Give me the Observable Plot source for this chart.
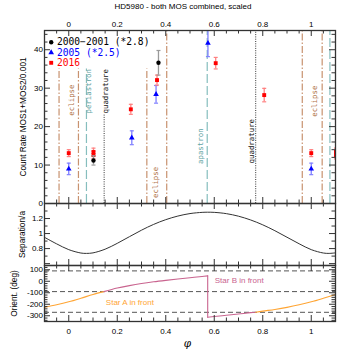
<!DOCTYPE html>
<html><head><meta charset="utf-8">
<script src="https://cdn.jsdelivr.net/npm/d3@7"></script>
<script src="https://cdn.jsdelivr.net/npm/@observablehq/plot@0.6"></script>
<style>
body{margin:0;background:#fff;}
#chart{position:relative;width:354px;height:354px;font-family:"Liberation Sans",Arial,sans-serif;overflow:hidden;}
#chart svg{position:absolute;left:0;overflow:visible;}
#title{position:absolute;top:2px;left:0;width:366px;text-align:center;font-size:8px;color:#000;}
</style></head><body>
<div id="chart"><div id="title">HD5980 - both MOS combined, scaled</div></div>
<script>
// ---------- data ----------
const phaseDomain = [-0.1, 1.1];
const phaseTickLabels = [0, 0.2, 0.4, 0.6, 0.8, 1];

const rateTickLabels = [0, 10, 20, 30, 40];
const sepTickLabels = [0.8, 1, 1.2];
const oriTickLabels = [100, 0, -100, -200, -300];

// 2000-2001 (scaled *2.8)
const obs2000Phase = [0.102, 0.370];
const obs2000Rate  = [11.2, 36.6];
const obs2000Err   = [1.2, 3.2];
// 2005 (scaled *2.5)
const obs2005Phase = [0.0, 0.26, 0.36, 0.574, 1.0];
const obs2005Rate  = [9.0, 17.1, 28.4, 41.7, 9.0];
const obs2005Err   = [1.5, 1.8, 2.3, 3.5, 1.5];
// 2016
const obs2016Phase = [0.0, 0.102, 0.102, 0.256, 0.364, 0.606, 0.806, 1.0, 1.102, 1.102];
const obs2016Rate  = [13.1, 13.4, 12.6, 24.5, 32.1, 36.5, 28.2, 13.1, 13.4, 12.6];
const obs2016Err   = [0.9, 1.0, 1.0, 1.3, 1.3, 1.5, 1.75, 0.9, 1.0, 1.0];

const legendLabels = ["2000\u22122001 (*2.8)", "2005 (*2.5)", "2016"];

// orbital events
const eventKind  = ["eclipse","eclipse","periastron","quadrature","eclipse","eclipse","apastron","quadrature","eclipse","eclipse","periastron"];
const eventPhase = [-0.04, 0.04, 0.073, 0.146, 0.322, 0.404, 0.571, 0.771, 0.963, 1.045, 1.077];
const eventTop   = [35, 35, 35, 23, 35, 45, 45, 45, 45, 45, 45];

const annText  = ["eclipse","periastron","quadrature","eclipse","apastron","quadrature","eclipse"];
const annPhase = [0.012, 0.080, 0.154, 0.357, 0.544, 0.756, 1.012];
const annRate  = [26.9, 29.2, 29.2, 5.5, 14.9, 16.2, 26.6];

// separation
const sepPhase = [-0.1,-0.05,0,0.05,0.073,0.1,0.15,0.2,0.25,0.3,0.35,0.4,0.45,0.5,0.55,0.573,0.6,0.65,0.7,0.75,0.8,0.85,0.9,0.95,1.0,1.05,1.073,1.1];
const sepValue = [0.95,0.863,0.786,0.741,0.736,0.743,0.792,0.870,0.958,1.045,1.122,1.185,1.233,1.266,1.282,1.284,1.282,1.265,1.231,1.181,1.116,1.038,0.951,0.864,0.786,0.741,0.736,0.743];

// orientation
const oriPhase = [-0.1,-0.05,0,0.05,0.1,0.145, 0.145,0.2,0.25,0.3,0.35,0.4,0.45,0.5,0.55,0.573, 0.573,0.573, 0.573,0.6,0.65,0.7,0.75,0.771, 0.771,0.8,0.85,0.9,0.95,1.0,1.05,1.1];
const oriAngle = [-227,-205,-179,-148,-115,-90, -90,-59,-38,-20,-5,8,20,31,42,47, 47,-313, -313,-307,-296,-285,-273,-270, -270,-260,-245,-227,-205,-179,-148,-115];
const oriSeg   = ["A1","A1","A1","A1","A1","A1", "B1","B1","B1","B1","B1","B1","B1","B1","B1","B1", "D","D", "B2","B2","B2","B2","B2","B2", "A2","A2","A2","A2","A2","A2","A2","A2"];
const oriQuadLines = [90, -90, -270];

const starLabelText  = ["Star A in front", "Star B in front"];
const starLabelPhase = [0.153, 0.602];
const starLabelAngle = [-183, 6];
const starLabelStar  = ["A", "B"];

// ---------- styles ----------
const W = 354, ML = 44, MR = 19, PW = W - ML - MR;
const axisColor = "#333";
const kindColor = {eclipse: "#c8926f", periastron: "#86bebe", apastron: "#86bebe", quadrature: "#333"};
const kindText  = {eclipse: "#b07248", periastron: "#5fa3a3", apastron: "#5fa3a3", quadrature: "#111"};
const kindDash  = {eclipse: "7,2,1.5,2", periastron: "9,3", apastron: "9,3", quadrature: "1,1.3"};
const starColor = {A: "#ffa534", B: "#c9648f"};
const monoFont = "DejaVu Sans Mono, monospace";
const baseStyle = {fontFamily: "Liberation Sans, Arial, sans-serif", fontSize: "8px", background: "transparent", overflow: "visible", color: "#000"};

const byIdx = (arr, f) => arr.map((_, i) => f(i));
const tbl2000 = byIdx(obs2000Phase, i => ({phase: obs2000Phase[i], v: obs2000Rate[i], e: obs2000Err[i]}));
const tbl2005 = byIdx(obs2005Phase, i => ({phase: obs2005Phase[i], v: obs2005Rate[i], e: obs2005Err[i]}));
const tbl2016 = byIdx(obs2016Phase, i => ({phase: obs2016Phase[i], v: obs2016Rate[i], e: obs2016Err[i]}));
const events = byIdx(eventPhase, i => ({phase: eventPhase[i], kind: eventKind[i], top: eventTop[i]}));
const anns = byIdx(annText, i => ({text: annText[i], phase: annPhase[i], v: annRate[i]}));
const sepTbl = byIdx(sepPhase, i => ({phase: sepPhase[i], v: sepValue[i]}));
const oriTbl = byIdx(oriPhase, i => ({phase: oriPhase[i], v: oriAngle[i], seg: oriSeg[i]}));
const starTbl = byIdx(starLabelText, i => ({text: starLabelText[i], phase: starLabelPhase[i], v: starLabelAngle[i], star: starLabelStar[i]}));

const capSymbol = {draw(ctx, size) { const r = Math.sqrt(size / Math.PI); ctx.moveTo(-r, 0); ctx.lineTo(r, 0); }};

const phaseMajor = [0.0, 0.2, 0.4, 0.6, 0.8, 1.0];
const phaseMinor = d3.range(-2, 23).map(k => k * 0.05).filter(v => !phaseMajor.some(m => Math.abs(m - v) < 1e-6));

function xTicks(plotH) {
  const o = {stroke: axisColor, strokeWidth: 1};
  return [
    Plot.tickX(phaseMajor, {x: d => d, insetBottom: plotH - 6, ...o}),
    Plot.tickX(phaseMinor, {x: d => d, insetBottom: plotH - 3.5, ...o}),
    Plot.tickX(phaseMajor, {x: d => d, insetTop: plotH - 6, ...o}),
    Plot.tickX(phaseMinor, {x: d => d, insetTop: plotH - 3.5, ...o})
  ];
}
function yTicks(major, minor) {
  const o = {stroke: axisColor, strokeWidth: 1};
  return [
    Plot.tickY(major, {y: d => d, insetRight: PW - 6, ...o}),
    Plot.tickY(minor, {y: d => d, insetRight: PW - 3.5, ...o}),
    Plot.tickY(major, {y: d => d, insetLeft: PW - 6, ...o}),
    Plot.tickY(minor, {y: d => d, insetLeft: PW - 3.5, ...o})
  ];
}
function yLabel(text, dx) {
  return Plot.text([text], {frameAnchor: "left", text: d => d, rotate: -90, dx, textAnchor: "middle", lineAnchor: "middle", fontSize: 8.3, fill: "#000"});
}
function seriesMarks(tbl, color, errColor, symbol, r) {
  return [
    Plot.ruleX(tbl, {x: "phase", y1: d => d.v - d.e, y2: d => d.v + d.e, stroke: errColor, strokeWidth: 1.3, clip: true}),
    Plot.dot(tbl, {x: "phase", y: d => d.v - d.e, symbol: capSymbol, r: 2, stroke: errColor, strokeWidth: 1.2, fill: "none", clip: true}),
    Plot.dot(tbl, {x: "phase", y: d => d.v + d.e, symbol: capSymbol, r: 2, stroke: errColor, strokeWidth: 1.2, fill: "none", clip: true}),
    Plot.dot(tbl, {x: "phase", y: "v", symbol, r, fill: color, stroke: "none", clip: true})
  ];
}
const eventMarks = ["eclipse", "periastron", "apastron", "quadrature"].map(k =>
  Plot.ruleX(events.filter(d => d.kind === k), {x: "phase", y1: 0, y2: "top", stroke: kindColor[k], strokeDasharray: kindDash[k], strokeWidth: k === "quadrature" ? 1 : 1.2})
);

// ---------- panel 1 : count rate ----------
const rateMinor = d3.range(0, 46, 2).filter(v => v % 10 !== 0);
const legendSymbols = ["circle", "triangle", "square"];
const legendColors = ["#000", "#0000ff", "#ff0000"];
const legendR = [2.2, 2.1, 2.2];
const legendMarks = legendLabels.flatMap((lab, i) => [
  Plot.dot([lab], {frameAnchor: "top-left", dx: 6.7, dy: 11.7 + i * 10.3, symbol: legendSymbols[i], r: legendR[i], fill: legendColors[i]}),
  Plot.text([lab], {frameAnchor: "top-left", text: d => d, dx: 12.5, dy: 11.7 + i * 10.3, textAnchor: "start", lineAnchor: "middle", fill: legendColors[i], fontSize: 9.6, fontFamily: monoFont})
]);

const p1 = Plot.plot({
  width: W, height: 203, marginLeft: ML, marginRight: MR, marginTop: 30, marginBottom: 0,
  x: {domain: phaseDomain}, y: {domain: [0, 45]},
  style: baseStyle,
  marks: [
    ...eventMarks,
    Plot.text(anns, {x: "phase", y: "v", text: "text", rotate: -90, fill: d => kindText[d.text], fontFamily: monoFont, fontSize: 7.4}),
    ...seriesMarks(tbl2005, "#0000ff", "#7f7fff", "triangle", 2.1),
    ...seriesMarks(tbl2016, "#ff0000", "#ff8080", "square", 2.2),
    ...seriesMarks(tbl2000, "#000", "#9a9a9a", "circle", 2.2),
    ...legendMarks,
    ...xTicks(173),
    ...yTicks(rateTickLabels, rateMinor),
    Plot.axisX({anchor: "top", ticks: phaseTickLabels, tickSize: 0, tickPadding: 4, tickFormat: d => String(d), label: null}),
    Plot.axisY({anchor: "left", ticks: rateTickLabels, tickSize: 0, tickPadding: 1.5, tickFormat: d => String(d), label: null}),
    yLabel("Count Rate MOS1+MOS2/0.001", -21),
    Plot.frame({stroke: axisColor, strokeWidth: 1.3})
  ]
});

// ---------- panel 2 : separation ----------
const p2 = Plot.plot({
  width: W, height: 62, marginLeft: ML, marginRight: MR, marginTop: 0, marginBottom: 0,
  x: {domain: phaseDomain}, y: {domain: [0.575, 1.4]},
  style: baseStyle,
  marks: [
    Plot.line(sepTbl, {x: "phase", y: "v", stroke: "#333", strokeWidth: 1, curve: "catmull-rom"}),
    ...xTicks(62),
    ...yTicks([0.6, 0.8, 1, 1.2], [0.7, 0.9, 1.1, 1.3]),
    Plot.axisY({anchor: "left", ticks: sepTickLabels, tickSize: 0, tickPadding: 1.5, tickFormat: d => String(d), label: null}),
    Plot.axisX({ticks: [], label: null}),
    yLabel("Separation/a", -22),
    Plot.frame({stroke: axisColor, strokeWidth: 1.3})
  ]
});

// ---------- panel 3 : orientation ----------
const oriMinor = d3.range(-340, 137, 20).filter(v => v % 100 !== 0);
const segStar = s => (s[0] === "A" ? "A" : "B");
const p3 = Plot.plot({
  width: W, height: 89, marginLeft: ML, marginRight: MR, marginTop: 0, marginBottom: 33,
  x: {domain: phaseDomain}, y: {domain: [-350, 137]},
  style: baseStyle,
  marks: [
    Plot.ruleY(oriQuadLines, {y: d => d, stroke: "#555", strokeDasharray: "5,3", strokeWidth: 1}),
    Plot.line(oriTbl, {x: "phase", y: "v", z: "seg", stroke: d => starColor[segStar(d.seg)], strokeWidth: 1.1, curve: "catmull-rom"}),
    Plot.text(starTbl, {x: "phase", y: "v", text: "text", textAnchor: "start", fill: d => starColor[d.star], fontSize: 8}),
    ...xTicks(56),
    ...yTicks(oriTickLabels, oriMinor),
    Plot.axisX({anchor: "bottom", ticks: phaseTickLabels, tickSize: 0, tickPadding: 7, tickFormat: d => String(d), label: null}),
    Plot.axisY({anchor: "left", ticks: oriTickLabels, tickSize: 0, tickPadding: 1.5, tickFormat: d => String(d), label: null}),
    yLabel("Orient. (deg)", -30),
    Plot.text(["\u03c6"], {frameAnchor: "bottom", text: d => d, dy: 22, dx: -2.5, lineAnchor: "middle", textAnchor: "middle", fontSize: 10.5, fontStyle: "italic", fontFamily: "DejaVu Serif, serif", fill: "#000"}),
    Plot.frame({stroke: axisColor, strokeWidth: 1.3})
  ]
});

const chart = document.getElementById("chart");
[[p1, 0], [p2, 203], [p3, 265]].forEach(([svg, top]) => {
  svg.style.top = top + "px";
  chart.appendChild(svg);
});
</script>
</body></html>
